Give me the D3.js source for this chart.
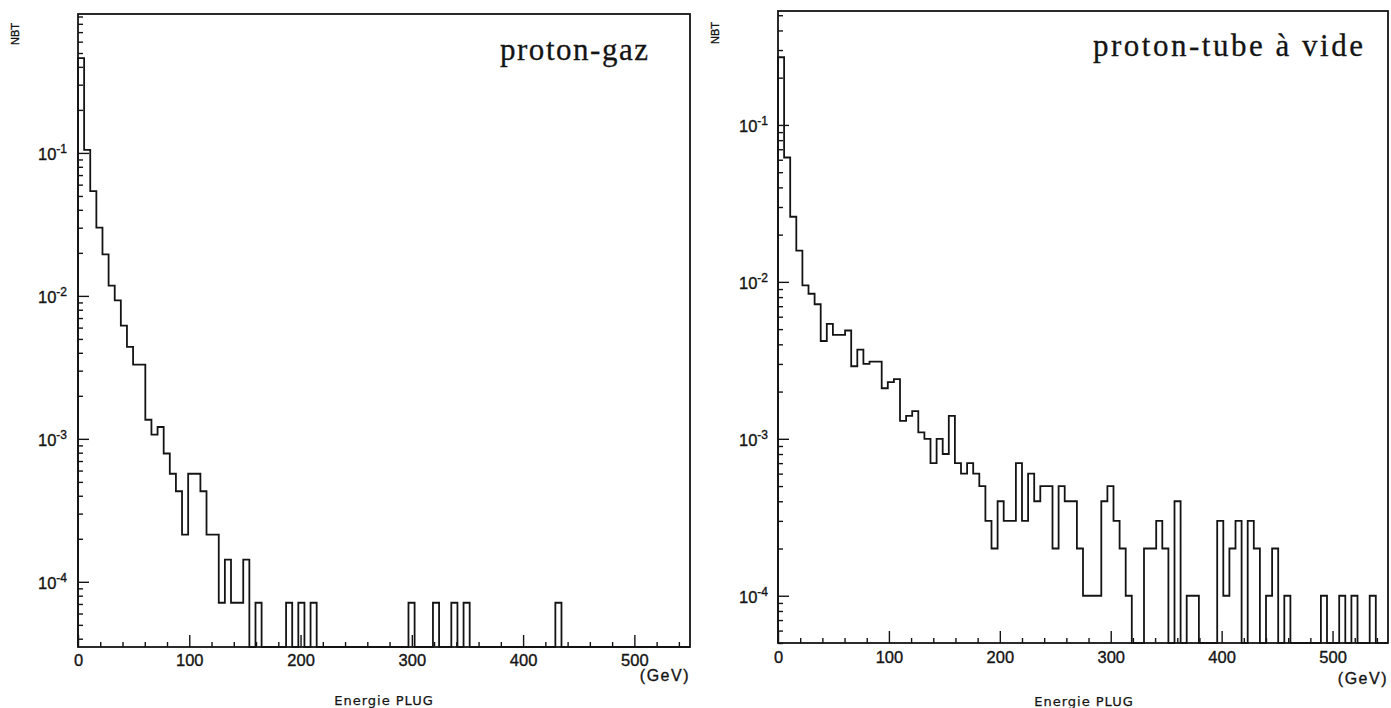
<!DOCTYPE html>
<html><head><meta charset="utf-8">
<script src="https://cdn.jsdelivr.net/npm/d3@7"></script>
<style>body{margin:0;background:#fff}svg{display:block}</style>
</head><body>
<svg id="c" width="1391" height="708"></svg>
<script>
// ---------- data ----------
const binWidth = 5.5;          // GeV per bin, 100 bins from 0 to 550 GeV
const energyDomain = [0, 550];

// proton-gaz (normalised counts per bin)
const gasValues = [
  0.46, 0.105, 0.054, 0.030, 0.0195, 0.0118, 0.0093, 0.0062, 0.0044, 0.0033,
  0.0033, 0.00136, 0.00107, 0.00121, 0.00079, 0.00057, 0.00043, 0.000214, 0.00057, 0.00057,
  0.00043, 0.000214, 0.000214, 0.0000714, 0.000143, 0.0000714, 0.0000714, 0.000143, 0, 0.0000714,
  0, 0, 0, 0, 0.0000714, 0, 0.0000714, 0, 0.0000714, 0,
  0, 0, 0, 0, 0, 0, 0, 0, 0, 0,
  0, 0, 0, 0, 0.0000714, 0, 0, 0, 0.0000714, 0,
  0, 0.0000714, 0, 0.0000714, 0, 0, 0, 0, 0, 0,
  0, 0, 0, 0, 0, 0, 0, 0, 0.0000714, 0,
  0, 0, 0, 0, 0, 0, 0, 0, 0, 0,
  0, 0, 0, 0, 0, 0, 0, 0, 0, 0
];

// proton-tube à vide
const vacuumValues = [
  0.27, 0.062, 0.026, 0.0158, 0.0095, 0.0084, 0.0072, 0.0042, 0.0054, 0.0046,
  0.0046, 0.0049, 0.0029, 0.0037, 0.0030, 0.0031, 0.0031, 0.0021, 0.0023, 0.0024,
  0.0013, 0.0014, 0.0015, 0.0011, 0.0010, 0.0007, 0.0010, 0.0008, 0.0014, 0.0007,
  0.0006, 0.0007, 0.0006, 0.0005, 0.0003, 0.0002, 0.0004, 0.0003, 0.0003, 0.0007,
  0.0003, 0.0006, 0.0004, 0.0005, 0.0005, 0.0002, 0.0005, 0.0004, 0.0004, 0.0002,
  0.0001, 0.0001, 0.0001, 0.0004, 0.0005, 0.0003, 0.0002, 0.0001, 0, 0,
  0.0002, 0.0002, 0.0003, 0.0002, 0, 0.0004, 0, 0.0001, 0.0001, 0,
  0, 0, 0.0003, 0.0001, 0.0002, 0.0003, 0, 0.0003, 0.0002, 0,
  0.0001, 0.0002, 0, 0.0001, 0, 0, 0, 0, 0, 0.0001,
  0, 0, 0.0001, 0, 0.0001, 0, 0, 0.0001, 0, 0
];

const xMajorTicks = [0, 100, 200, 300, 400, 500];
const xMinorTicks = [20, 40, 60, 80, 120, 140, 160, 180, 220, 240, 260, 280, 320, 340, 360, 380, 420, 440, 460, 480, 520, 540];
const yDecadeTicks = [1e-4, 1e-3, 1e-2, 1e-1];
const yDecadeExponents = ["-4", "-3", "-2", "-1"];

const titles = ["proton-gaz", "proton-tube à vide"];
const xAxisTitle = "Energie PLUG";
const xAxisUnit = "(GeV)";
const yAxisTitle = "NBT";

// ---------- layout ----------
const panels = [
  { values: gasValues, title: titles[0],
    x0: 78, x1: 690, yTop: 14, yBot: 647, yMin: 3.5e-5, yMax: 0.937,
    titleX: 500, titleY: 60, titleLen: 148,
    nbtX: 15, nbtY: 34, xPad: 7, yPad: 11,
    unitX: 690, unitY: 681, labX: 384, labY: 705 },
  { values: vacuumValues, title: titles[1],
    x0: 778, x1: 1388, yTop: 11, yBot: 643, yMin: 5.0e-5, yMax: 0.532,
    titleX: 1093, titleY: 56, titleLen: 270,
    nbtX: 715, nbtY: 33, xPad: 8, yPad: 10,
    unitX: 1388, unitY: 684, labX: 1084, labY: 706 }
];

const svg = d3.select("#c");
const ink = "#141414";
const tickFont = "'Liberation Sans', Arial, sans-serif";

function styleText(sel, size) {
  sel.attr("font-family", tickFont).attr("font-size", size).attr("fill", ink)
     .attr("stroke", ink).attr("stroke-width", 0.35);
}

function drawPanel(p) {
  const g = svg.append("g");
  const x = d3.scaleLinear().domain(energyDomain).range([p.x0, p.x1]);
  const y = d3.scaleLog().domain([p.yMin, p.yMax]).range([p.yBot, p.yTop]).clamp(true);

  // frame
  g.append("rect")
    .attr("x", p.x0).attr("y", p.yTop)
    .attr("width", p.x1 - p.x0).attr("height", p.yBot - p.yTop)
    .attr("fill", "none").attr("stroke", ink).attr("stroke-width", 1.8);

  // y minor ticks
  const yMinor = [];
  for (let d = Math.floor(Math.log10(p.yMin)); d <= 0; d++) {
    for (let m = 2; m <= 9; m++) {
      const v = m * Math.pow(10, d);
      if (v >= p.yMin * 0.999 && v <= p.yMax) yMinor.push(v);
    }
  }
  const yMinorAxis = g.append("g").attr("transform", `translate(${p.x0},0)`)
    .call(d3.axisLeft(y).tickValues(yMinor).tickSizeInner(-5).tickSizeOuter(0).tickFormat(""));
  yMinorAxis.select(".domain").remove();

  const yMajorAxis = g.append("g").attr("transform", `translate(${p.x0},0)`)
    .call(d3.axisLeft(y).tickValues(yDecadeTicks).tickSizeInner(-11).tickSizeOuter(0)
      .tickPadding(p.yPad).tickFormat(() => ""));
  yMajorAxis.select(".domain").remove();
  yMajorAxis.selectAll(".tick text").each(function(d, i) {
    const t = d3.select(this);
    t.text(null).attr("dy", "0.42em");
    styleText(t, 16.5);
    t.append("tspan").text("10");
    t.append("tspan").attr("dy", "-0.6em").attr("font-size", 12).text(yDecadeExponents[i]);
  });

  // x ticks
  const xMinorAxis = g.append("g").attr("transform", `translate(0,${p.yBot})`)
    .call(d3.axisBottom(x).tickValues(xMinorTicks).tickSizeInner(-5).tickSizeOuter(0).tickFormat(""));
  xMinorAxis.select(".domain").remove();
  const xMajorAxis = g.append("g").attr("transform", `translate(0,${p.yBot})`)
    .call(d3.axisBottom(x).tickValues(xMajorTicks).tickSizeInner(-12).tickSizeOuter(0)
      .tickPadding(p.xPad).tickFormat(d3.format("d")));
  xMajorAxis.select(".domain").remove();
  styleText(xMajorAxis.selectAll(".tick text"), 16.5);

  g.selectAll(".tick line").attr("stroke", ink).attr("stroke-width", 1.4);

  // histogram outline
  const pts = [{ e: 0, v: 0 }];
  p.values.forEach((v, i) => pts.push({ e: i * binWidth, v }));
  pts.push({ e: energyDomain[1], v: p.values[p.values.length - 1] });
  pts.push({ e: energyDomain[1], v: 0 });
  const line = d3.line()
    .x(d => x(d.e))
    .y(d => y(d.v > 0 ? d.v : p.yMin))
    .curve(d3.curveStepAfter);
  g.append("path").datum(pts).attr("d", line)
    .attr("fill", "none").attr("stroke", ink).attr("stroke-width", 1.8)
    .attr("stroke-linejoin", "miter");

  // texts
  g.append("text").attr("x", p.titleX).attr("y", p.titleY)
    .attr("font-family", "'Liberation Serif', 'DejaVu Serif', serif").attr("font-size", 31)
    .attr("textLength", p.titleLen).attr("lengthAdjust", "spacing")
    .attr("fill", ink).attr("stroke", ink).attr("stroke-width", 0.3).text(p.title);

  styleText(g.append("text").attr("transform", `translate(${p.nbtX},${p.nbtY}) rotate(-90)`)
    .attr("text-anchor", "middle").attr("dy", "0.35em").text(yAxisTitle), 11);

  styleText(g.append("text").attr("x", p.unitX).attr("y", p.unitY).attr("text-anchor", "end")
    .attr("letter-spacing", "1.5px").text(xAxisUnit), 16);

  g.append("text").attr("x", p.labX).attr("y", p.labY).attr("text-anchor", "middle")
    .attr("font-family", "'DejaVu Sans', sans-serif").attr("font-size", 13).attr("letter-spacing", "1px")
    .attr("fill", ink).attr("stroke", ink).attr("stroke-width", 0.25).text(xAxisTitle);
}

panels.forEach(drawPanel);
</script>
</body></html>
